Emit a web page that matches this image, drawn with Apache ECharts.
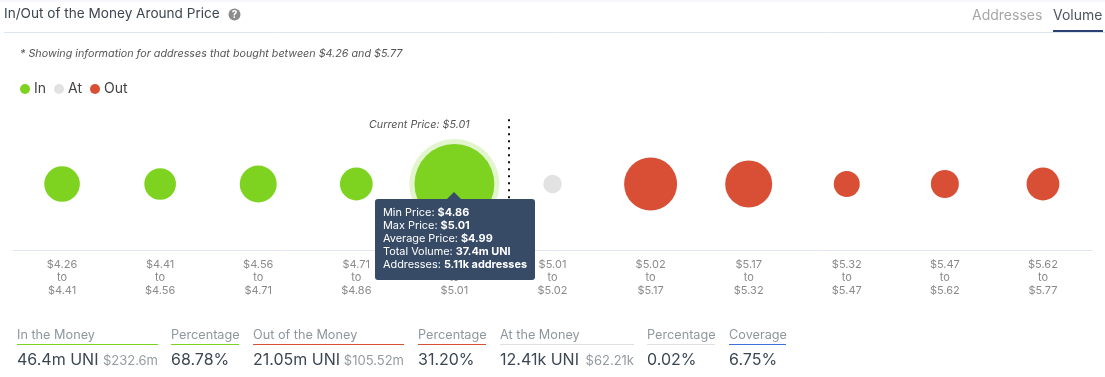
<!DOCTYPE html>
<html><head><meta charset="utf-8">
<style>html,body{margin:0;padding:0;background:#fff}#c{width:1105px;height:377px}</style>
<script src="https://cdn.jsdelivr.net/npm/echarts@6/dist/echarts.min.js"></script>
</head><body><div id="c"></div>
<script>
const priceLow  = ['$4.26','$4.41','$4.56','$4.71','$4.86','$5.01','$5.02','$5.17','$5.32','$5.47','$5.62'];
const priceHigh = ['$4.41','$4.56','$4.71','$4.86','$5.01','$5.02','$5.17','$5.32','$5.47','$5.62','$5.77'];
const status    = ['In','In','In','In','In','At','Out','Out','Out','Out','Out'];
const volumesM  = [1.62,0.90,1.93,1.08,37.4,0.0124,8.6,5.39,0.29,0.457,1.08];
const currentBin = 5.05;
const hoveredIndex = 4;
const tooltipRows = [['Min Price: ','$4.86'],['Max Price: ','$5.01'],['Average Price: ','$4.99'],['Total Volume: ','37.4m UNI'],['Addresses: ','5.11k addresses']];
const summary = [
  {label:'In the Money',main:'46.4m UNI',sub:'$232.6m',x:17,end:158,color:'#7ed321'},
  {label:'Percentage',main:'68.78%',x:171,end:239,color:'#7ed321'},
  {label:'Out of the Money',main:'21.05m UNI',sub:'$105.52m',x:253,end:404,color:'#d94f35'},
  {label:'Percentage',main:'31.20%',x:418,end:486,color:'#d94f35'},
  {label:'At the Money',main:'12.41k UNI',sub:'$62.21k',x:500,end:634,color:'#e0e0e0'},
  {label:'Percentage',main:'0.02%',x:647,end:715,color:'#e0e0e0'},
  {label:'Coverage',main:'6.75%',x:729,end:786,color:'#3f6fd8'}
];
const colors = {In:'#7ed321',At:'#e2e2e2',Out:'#d94f35'};
const FF = 'Inter, sans-serif';
const categories = priceLow.map((l,i)=>l+'\nto\n'+priceHigh[i]);
const sizeOf = v => 15 + 17.3*Math.pow(v,0.365);
const pick = s => volumesM.map((v,i)=>status[i]===s?[i,0.5,v]:null).filter(Boolean);

const series = ['In','At','Out'].map(s=>({
  name:s,type:'scatter',data:pick(s),
  symbolSize:d=>sizeOf(d[2]),
  itemStyle:{color:colors[s],opacity:1},z:3,silent:true
}));
series.push({
  name:'halo',type:'scatter',silent:true,z:2,
  data:[[hoveredIndex,0.5,volumesM[hoveredIndex]]],
  symbolSize:d=>sizeOf(d[2])+10,
  itemStyle:{color:colors.In,opacity:0.22}
});
series.push({
  name:'current',type:'scatter',xAxisIndex:1,data:[],silent:true,z:1,
  markLine:{silent:true,symbol:'none',animation:false,label:{show:false},
    lineStyle:{color:'#111',type:[2,5],width:2,cap:'butt'},
    data:[[{coord:[currentBin,0.99]},{coord:[currentBin,0]}]]}
});

const T=(text,x,y,font,fill,extra)=>({type:'text',silent:true,z:20,
  style:Object.assign({text,x,y,font:font+' '+FF,fill,verticalAlign:'middle'},extra||{})});
const g=[];
g.push({type:'rect',silent:true,shape:{x:0,y:0,width:1105,height:2},style:{fill:'#f7f8fb'}});
g.push(T('In/Out of the Money Around Price',4,14,'400 13.6px','#3c4650'));
g.push({type:'circle',silent:true,shape:{cx:234.5,cy:14.5,r:6},style:{fill:'#8c8c8c'}});
g.push(T('?',234.5,15,'700 10px','#fff',{align:'center'}));
g.push({type:'line',silent:true,shape:{x1:4,y1:32.5,x2:1105,y2:32.5},style:{stroke:'#dfe5f0',lineWidth:1}});
g.push(T('Addresses',972,16,'400 14px','#a6a6a6'));
g.push(T('Volume',1053,16,'400 14px','#4f5660'));
g.push({type:'rect',silent:true,z:21,shape:{x:1053,y:30,width:50,height:2},style:{fill:'#2b4173'}});
g.push(T('* Showing information for addresses that bought between $4.26 and $5.77',20,54,'italic 400 10.75px','#555'));
g.push(T('Current Price: $5.01',369,125,'italic 400 10.75px','#555'));
summary.forEach(s=>{
  g.push(T(s.label,s.x,335,'400 12.7px','#8f979e'));
  g.push({type:'rect',silent:true,shape:{x:s.x,y:344,width:s.end-s.x,height:1},style:{fill:s.color}});
  g.push(T(s.main,s.x,360,'400 16px','#3b4854'));
  if(s.sub) g.push(T(s.sub,s.end,361,'400 13px','#959ba1',{align:'right'}));
});
// hover tooltip
g.push({type:'polygon',silent:true,z:30,shape:{points:[[447,199],[454,192],[461,199]]},style:{fill:'#374a66'}});
g.push({type:'rect',silent:true,z:30,shape:{x:375,y:199,width:160,height:81,r:3},style:{fill:'#374a66'}});
g.push({type:'text',silent:true,z:31,style:{
  x:383,y:206,
  text:tooltipRows.map(r=>'{n|'+r[0]+'}{b|'+r[1]+'}').join('\n'),
  rich:{n:{font:'400 10.9px '+FF,fill:'#fff',lineHeight:13},b:{font:'700 10.9px '+FF,fill:'#fff',lineHeight:13}}
}});

const chart=echarts.init(document.getElementById('c'),null,{renderer:'canvas'});
chart.setOption({
  animation:false,
  grid:{left:13,right:13,top:118,height:132,containLabel:false},
  legend:{left:15,top:77,icon:'circle',itemWidth:10,itemHeight:10,itemGap:8,
    data:['In','At','Out'],selectedMode:false,
    textStyle:{fontFamily:FF,fontSize:14,color:'#444',padding:[0,0,0,-1]}},
  xAxis:[{type:'category',data:categories,boundaryGap:true,
    axisLine:{lineStyle:{color:'#e2e6f3',width:1}},axisTick:{show:false},
    splitLine:{show:false},
    axisLabel:{interval:0,margin:8,color:'#8a8a8a',fontFamily:FF,fontSize:11,lineHeight:13}},
   {type:'value',min:0,max:11,show:false}],
  yAxis:{type:'value',min:0,max:1,show:false},
  series,
  graphic:g
});
</script></body></html>
